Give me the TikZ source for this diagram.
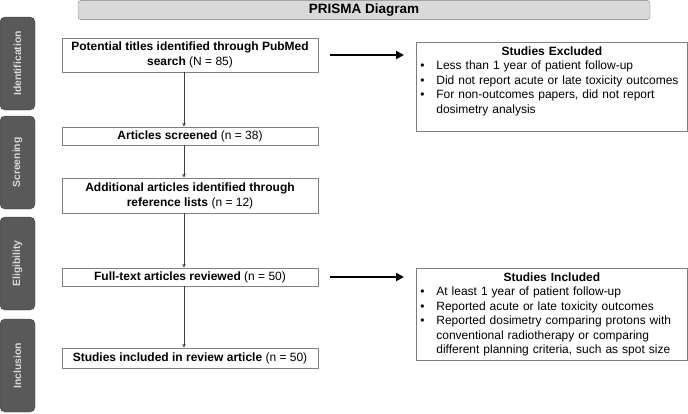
\documentclass[tikz,border=0pt]{standalone}
\usepackage{fontspec}
\setmainfont{Liberation Sans}
\usepackage{xcolor}
\definecolor{pBarFill}{HTML}{D9D9D9}
\definecolor{pTab}{HTML}{595959}
\definecolor{pEdge}{HTML}{7F7F7F}
\definecolor{pLine}{HTML}{404040}
\usepackage{tikz}
\usetikzlibrary{positioning,arrows.meta,calc}
\newcommand{\bulletline}[1]{\par\hangindent=16pt\hangafter=1\noindent\makebox[16pt][l]{\textbullet}#1}

\begin{document}
\begin{tikzpicture}[x=1pt, y=-1pt, font=\fontsize{12}{15}\selectfont,
  bar/.style={draw=pEdge, fill=pBarFill, rounded corners=3pt, minimum width=572pt, minimum height=18pt, font=\fontsize{13.5}{15}\selectfont\bfseries},
  tab/.style={draw=pLine, fill=pTab, text=pBarFill, rounded corners=5pt, rotate=90, minimum width=93pt, minimum height=35pt, font=\fontsize{10.4}{12}\selectfont\bfseries},
  stage/.style={draw=pEdge, line width=0.7pt, minimum width=256pt, inner sep=3pt, align=center},
  side/.style={draw=pEdge, line width=0.7pt, anchor=north west, text width=263pt, inner sep=4pt, align=left, font=\fontsize{12}{14.5}\selectfont},
  flow/.style={-{Stealth[length=4pt,width=3.5pt]}, pLine, line width=0.6pt},
  big/.style={-{Triangle[length=8pt,width=8pt]}, black, line width=2.4pt, shorten <=12pt, shorten >=12pt}]
\useasboundingbox (0,0) rectangle (688,413);
% title
\node[bar] (title) at (364,10) {PRISMA Diagram};
% phase tabs
\node[tab] (tIdent) at (17.5,63.5) {Identification};
\node[tab] (tScreen) at (17.5,162.5) {Screening};
\node[tab] (tElig) at (17.5,263.5) {Eligibility};
\node[tab] (tIncl) at (17.5,365.5) {Inclusion};
% stages
\node[stage, minimum height=34pt] (b1) at (190,55) {\textbf{Potential titles identified through PubMed}\\ \textbf{search} (N = 85)};
\node[stage, minimum height=18pt] (b2) at (190,136) {\textbf{Articles screened} (n = 38)};
\node[stage, minimum height=35pt] (b3) at (190,195.5) {\textbf{Additional articles identified through}\\ \textbf{reference lists} (n = 12)};
\node[stage, minimum height=18pt] (b4) at (190,277) {\textbf{Full-text articles reviewed} (n = 50)};
\node[stage, minimum height=20pt] (b5) at (190,358) {\textbf{Studies included in review article} (n = 50)};
\draw[flow] ([xshift=-6pt]b1.south) -- ([xshift=-6pt]b2.north);
\draw[flow] ([xshift=-6pt]b2.south) -- ([xshift=-6pt]b3.north);
\draw[flow] ([xshift=-6pt]b3.south) -- ([xshift=-6pt]b4.north);
\draw[flow] ([xshift=-6pt]b4.south) -- ([xshift=-6pt]b5.north);
% criteria
\node[side] (excl) at (416,42) {\centerline{\textbf{Studies Excluded}}
  \bulletline{Less than 1 year of patient follow-up}
  \bulletline{Did not report acute or late toxicity outcomes}
  \bulletline{For non-outcomes papers, did not report\newline dosimetry analysis}
  \par\mbox{}};
\node[side] (incl) at (416,268) {\centerline{\textbf{Studies Included}}
  \bulletline{At least 1 year of patient follow-up}
  \bulletline{Reported acute or late toxicity outcomes}
  \bulletline{Reported dosimetry comparing protons with\newline conventional radiotherapy or comparing\newline different planning criteria, such as spot size}\par};
\draw[big] (b1.east) -- (b1.east -| excl.west);
\draw[big] (b4.east) -- (b4.east -| incl.west);
\end{tikzpicture}
\end{document}
